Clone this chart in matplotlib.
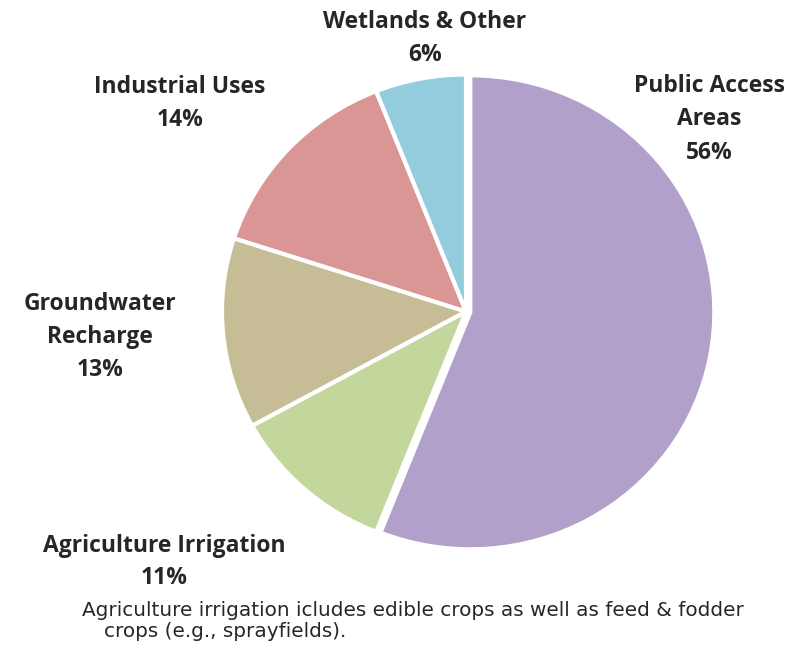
import matplotlib
matplotlib.use('Agg')
import matplotlib.pyplot as plt

# Slices, clockwise from 12 o'clock
labels = ['Public Access Areas', 'Agriculture Irrigation', 'Groundwater Recharge',
          'Industrial Uses', 'Wetlands & Other']
shares = [56, 11, 13, 14, 6]
colors = ['#B1A0C9', '#C3D69B', '#C6BD97', '#D99694', '#93CDDD']

# label lines (text, centre x px, baseline y px)
label_lines = [
    ('Wetlands & Other', 425, 28), ('6%', 425, 61),
    ('Industrial Uses', 180, 93), ('14%', 180, 126),
    ('Public Access', 709, 92), ('Areas', 709, 125), ('56%', 709, 159),
    ('Groundwater', 100, 310), ('Recharge', 100, 343), ('13%', 100, 376),
    ('Agriculture Irrigation', 164, 552), ('11%', 164, 584),
]
note_lines = [
    ('Agriculture irrigation icludes edible crops as well as feed & fodder', 82, 616),
    ('crops (e.g., sprayfields).', 104, 637),
]

W, H = 800, 655
fig = plt.figure(figsize=(W / 100, H / 100), dpi=100)

# pie sits in its own box: the picture is a little wider than tall
cx, cy, rx, ry = 466, 311.5, 244, 237
pax = fig.add_axes([(cx - rx) / W, (H - cy - ry) / H, 2 * rx / W, 2 * ry / H])
wedges, _ = pax.pie(shares, colors=colors, startangle=90, counterclock=False,
                    explode=[0.018, 0, 0, 0, 0], frame=True,
                    wedgeprops=dict(edgecolor='white', linewidth=3))
for w in wedges:
    w.set_clip_on(False)
pax.set_xlim(-1, 1)
pax.set_ylim(-1, 1)
pax.set_aspect('auto')
pax.axis('off')

ax = fig.add_axes([0, 0, 1, 1])
ax.set_xlim(0, W)
ax.set_ylim(H, 0)
ax.axis('off')

for txt, x, y in label_lines:
    ax.text(x, y, txt, ha='center', va='baseline', fontsize=16.5,
            fontweight='bold', family='Open Sans', color='#262626')

for txt, x, y in note_lines:
    ax.text(x, y, txt, ha='left', va='baseline', fontsize=14.4,
            family='DejaVu Sans', color='#262626')

fig.savefig('out.png', dpi=100)
